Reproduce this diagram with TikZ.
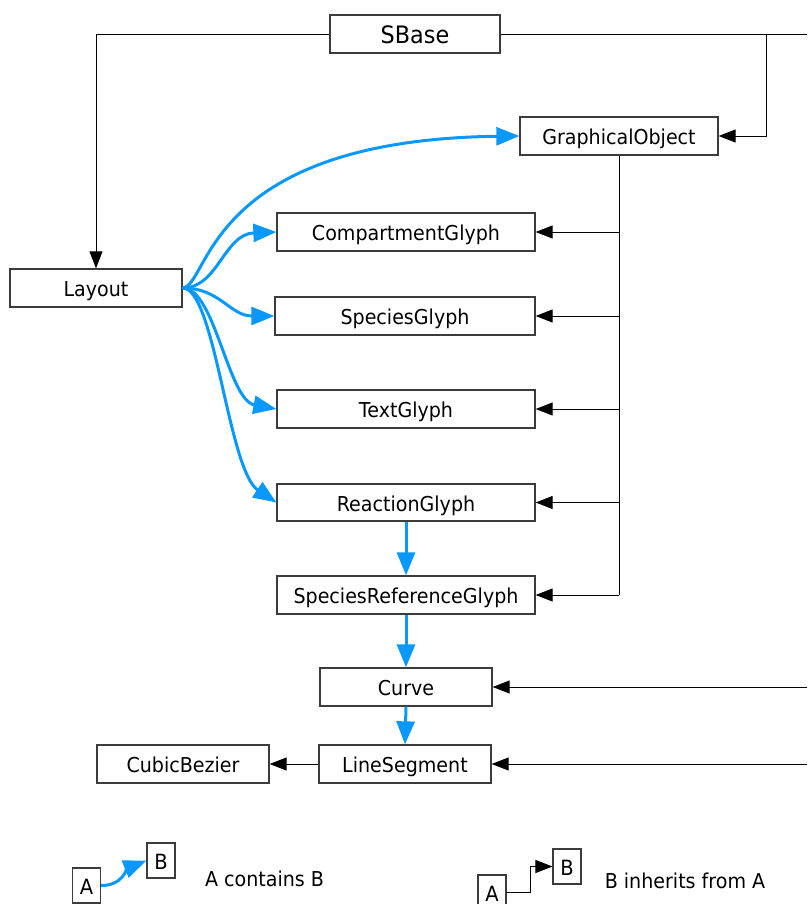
\documentclass[tikz,border=0pt]{standalone}
\usepackage{fontspec}
\setmainfont{DejaVu Sans}[FakeStretch=0.93]
\usetikzlibrary{arrows.meta}
\definecolor{cblue}{RGB}{8,152,255}
\definecolor{boxline}{RGB}{60,60,60}
\begin{document}
\begin{tikzpicture}[x=1pt,y=-1pt,
  cls/.style={draw=boxline, line width=1.3pt, fill=white, inner sep=0pt,
    minimum height=38pt, text height=17pt, text depth=0pt,
    font=\fontsize{20.5}{22}\selectfont},
  lbox/.style={draw=boxline, line width=1.1pt, fill=white, inner sep=0pt,
    minimum width=28pt, minimum height=35pt, text height=17pt, text depth=0pt,
    font=\fontsize{21}{22}\selectfont},
  inh/.style={draw=black, line width=0.9pt, -{Triangle[length=17pt,width=13pt]}},
  plain/.style={draw=black, line width=0.9pt},
  cont/.style={draw=cblue, line width=3pt, -{Triangle[length=23pt,width=18pt]}},
  lbl/.style={font=\fontsize{20.5}{22}\selectfont}
]
\useasboundingbox (0,0) rectangle (807,904);

% classes
\node[cls, minimum width=170pt, minimum height=38pt, text height=19pt, font=\fontsize{24}{26}\selectfont] (SBase) at (415,34) {SBase};
\node[cls, minimum width=198pt] (GO) at (619,136) {GraphicalObject};
\node[cls, minimum width=258pt] (CG) at (406,232) {CompartmentGlyph};
\node[cls, minimum width=172pt] (Layout) at (96,288) {Layout};
\node[cls, minimum width=260pt] (SG) at (405,316) {SpeciesGlyph};
\node[cls, minimum width=258pt] (TG) at (406,409) {TextGlyph};
\node[cls, minimum width=258pt, minimum height=37pt] (RG) at (406,502.5) {ReactionGlyph};
\node[cls, minimum width=258pt] (SRG) at (406,595) {SpeciesReferenceGlyph};
\node[cls, minimum width=172pt] (Curve) at (406,687) {Curve};
\node[cls, minimum width=172pt] (LS) at (405,764) {LineSegment};
\node[cls, minimum width=172pt] (CB) at (183,764) {CubicBezier};

% free ends / junctions
\coordinate (eTop) at (807,34);
\coordinate (jTop) at (766,34);
\coordinate (eCurve) at (807,687);
\coordinate (eLS) at (807,764);
\coordinate (jEnd) at (GO.south |- SRG.east);
\coordinate (jCG) at (GO.south |- CG.east);
\coordinate (jSG) at (GO.south |- SG.east);
\coordinate (jTG) at (GO.south |- TG.east);
\coordinate (jRG) at (GO.south |- RG.east);

% inheritance
\draw[inh] (SBase.west) -| (Layout.north);
\draw[plain] (SBase.east) -- (eTop);
\draw[inh] (jTop) |- (GO.east);
\draw[plain] (GO.south) -- (jEnd);
\draw[inh] (jCG) -- (CG.east);
\draw[inh] (jSG) -- (SG.east);
\draw[inh] (jTG) -- (TG.east);
\draw[inh] (jRG) -- (RG.east);
\draw[inh] (jEnd) -- (SRG.east);
\draw[inh] (eCurve) -- (Curve.east);
\draw[inh] (eLS) -- (LS.east);
\draw[inh] (LS.west) -- (CB.east);

% containment
\draw[cont] (Layout.east) .. controls (210,285) and (205,140) .. (GO.west);
\draw[cont] (Layout.east) .. controls (218,288) and (224,234) .. (CG.west);
\draw[cont] (Layout.east) .. controls (220,288) and (230,316) .. (SG.west);
\draw[cont] (Layout.east) .. controls (215,288) and (228,400) .. (TG.west);
\draw[cont] (Layout.east) .. controls (215,288) and (228,470) .. (RG.west);
\draw[cont] (RG.south) -- (SRG.north);
\draw[cont] (SRG.south) -- (Curve.north);
\draw[cont] (Curve.south) -- (LS.north);

% legend
\node[lbox] (LA1) at (86.5,885.5) {A};
\node[lbox] (LB1) at (161,860.5) {B};
\draw[cont] (LA1.east) .. controls (122,886) and (128,868) .. (LB1.west);
\node[lbl] (T1) at (264.5,879) {A contains B};

\node[lbox] (LA2) at (492,892.5) {A};
\node[lbox] (LB2) at (567,866.5) {B};
\draw[inh] (LA2.east) -- ++(24,0) |- (LB2.west);
\node[lbl] (T2) at (685,881) {B inherits from A};
\end{tikzpicture}
\end{document}
